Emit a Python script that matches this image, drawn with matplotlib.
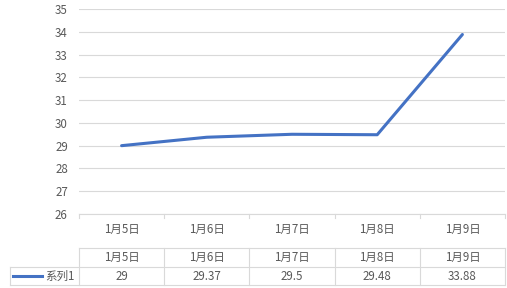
import matplotlib.pyplot as plt
from matplotlib.lines import Line2D

plt.rcParams['font.family'] = ['Noto Sans CJK SC', 'DejaVu Sans']

dates = ["1月5日", "1月6日", "1月7日", "1月8日", "1月9日"]
values = [29, 29.37, 29.5, 29.48, 33.88]
value_labels = ["29", "29.37", "29.5", "29.48", "33.88"]
series_name = "系列1"

LINE = "#4472C4"
GRID = "#D9D9D9"
TXT = "#595959"
FS = 8.3
W, H = 507, 288

fig = plt.figure(figsize=(W / 100, H / 100), dpi=100)
x0, x1, y_top, y_bot = 79, 505, 9, 214
ax = fig.add_axes([x0 / W, 1 - y_bot / H, (x1 - x0) / W, (y_bot - y_top) / H])

xs = list(range(len(dates)))
ax.plot(xs, values, color=LINE, lw=2.2, solid_capstyle="round", zorder=3)
ax.set_xlim(-0.5, len(dates) - 0.5)
ax.set_ylim(26, 35)
ax.set_yticks(range(26, 36))
ax.tick_params(axis="y", length=0, labelsize=FS, labelcolor=TXT, pad=8)
ax.set_xticks([])
ax.grid(axis="y", color=GRID, lw=0.8)
for s in ["top", "right", "left"]:
    ax.spines[s].set_visible(False)
ax.spines["bottom"].set_color(GRID)
ax.spines["bottom"].set_linewidth(0.8)

# helpers: pixel y -> axes fraction
def fy(py):
    return (y_bot - py) / (y_bot - y_top)

tr = ax.get_xaxis_transform()
kw = dict(transform=tr, clip_on=False, color=GRID, lw=0.8)

# ticks between categories
for b in [i - 0.5 for i in range(len(dates) + 1)]:
    ax.add_line(Line2D([b, b], [fy(214), fy(218)], **kw))
# category labels
for i, d in enumerate(dates):
    ax.text(i, fy(229), d, transform=tr, ha="center", va="center",
            fontsize=FS, color=TXT)

# data table
for b in [i - 0.5 for i in range(len(dates) + 1)]:
    ax.add_line(Line2D([b, b], [fy(248), fy(285)], **kw))
ax.add_line(Line2D([-0.5, len(dates) - 0.5], [fy(248), fy(248)], **kw))
fkw = dict(transform=fig.transFigure, color=GRID, lw=0.8)
for py in [267, 285]:
    fig.add_artist(Line2D([10 / W, x1 / W], [1 - py / H, 1 - py / H], **fkw))
fig.add_artist(Line2D([10 / W, 10 / W], [1 - 267 / H, 1 - 285 / H], **fkw))

for i, (d, v) in enumerate(zip(dates, value_labels)):
    ax.text(i, fy(257.5), d, transform=tr, ha="center", va="center",
            fontsize=FS, color=TXT)
    ax.text(i, fy(276), v, transform=tr, ha="center", va="center",
            fontsize=FS, color=TXT)

fig.add_artist(Line2D([13 / W, 42 / W], [1 - 276 / H, 1 - 276 / H],
                      transform=fig.transFigure, color=LINE, lw=2.2))
fig.text(45 / W, 1 - 276 / H, series_name, ha="left", va="center",
         fontsize=FS, color=TXT)

fig.savefig("out.png", dpi=100)
